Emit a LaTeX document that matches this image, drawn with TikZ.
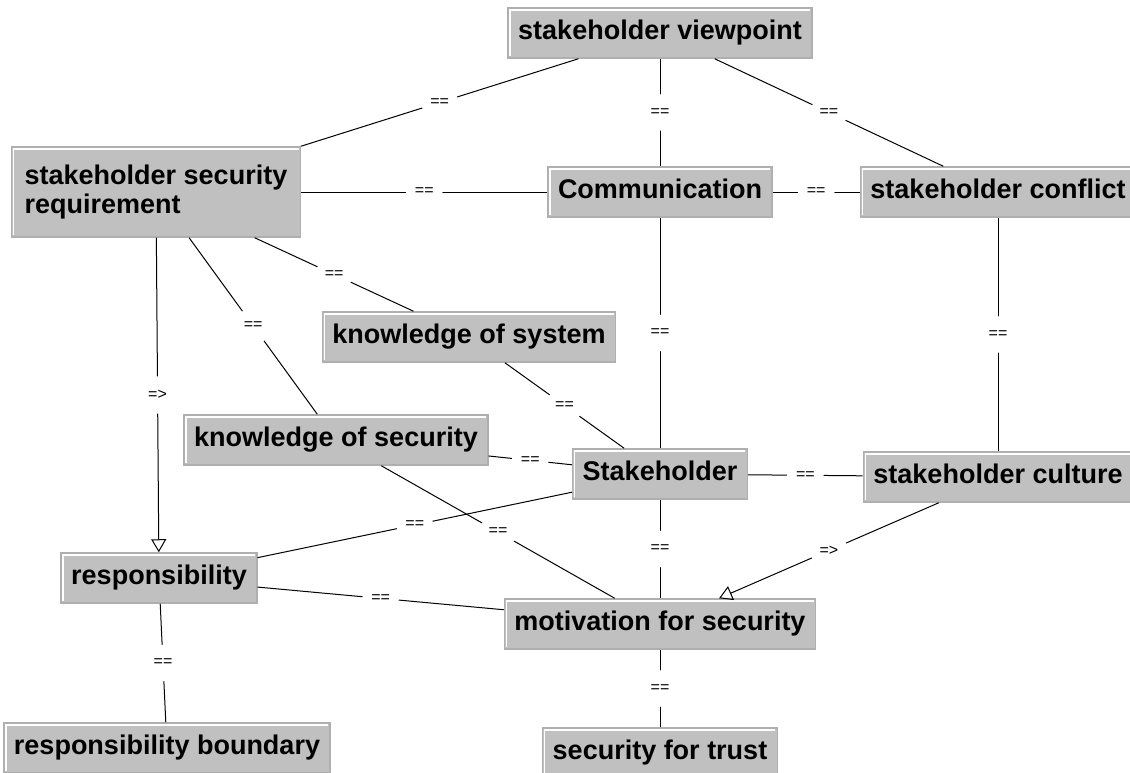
\documentclass[tikz,border=0pt]{standalone}
\usepackage{fontspec}
\setmainfont{Liberation Sans}
\usetikzlibrary{arrows.meta, positioning}

\tikzset{
  concept/.style={rectangle, fill={rgb,255:red,192;green,192;blue,192},
    draw={rgb,255:red,175;green,175;blue,175}, line width=1.5pt,
    font=\fontsize{27}{29}\selectfont\bfseries, text=black,
    inner xsep=10pt, inner ysep=0pt, minimum height=50pt,
    text height=19pt, text depth=6pt,
    path picture={\draw[white, line width=1.5pt]
      ([shift={(2pt,2pt)}]path picture bounding box.south west)
      |- ([shift={(-2pt,-2pt)}]path picture bounding box.north east);}},
  rel/.style={circle, fill=white, inner sep=6pt, font=\fontsize{16}{16}\selectfont, text=black},
  link/.style={line width=1pt, every node/.style={rel}},
  implies/.style={-{Triangle[open,length=13pt,width=15pt]}},
}

\begin{document}
\begin{tikzpicture}[x=1pt, y=1pt, node distance=100pt, on grid]
  \useasboundingbox (0,0) rectangle (1130,-773);

  \node[concept] (vp)    at (660,-33)                 {stakeholder viewpoint};
  \node[concept] (comm)  [below=159pt of vp]          {Communication};
  \node[concept, align=left, minimum width=289pt, minimum height=90pt,
        text height=, text depth=]
                 (ssr)   [left=504pt of comm]         {stakeholder security\\requirement};
  \node[concept] (conf)  [right=338pt of comm]        {stakeholder conflict};
  \node[concept] (kosys) [below right=145pt and 313pt of ssr] {knowledge of system};
  \node[concept] (kosec) [below right=248pt and 180pt of ssr] {knowledge of security};
  \node[concept] (sh)    [below=282pt of comm]        {Stakeholder};
  \node[concept] (cul)   [below=285pt of conf]        {stakeholder culture};
  \node[concept] (resp)  [below right=386pt and 3pt of ssr] {responsibility};
  \node[concept] (mot)   [below=150pt of sh]          {motivation for security};
  \node[concept] (rb)    [below right=170pt and 8pt of resp] {responsibility boundary};
  \node[concept] (sft)   [below=129pt of mot]         {security for trust};

  \path[link]
    (vp)    edge node {==} (ssr)
            edge node {==} (comm)
            edge node {==} (conf)
    (ssr)   edge node {==} (comm)
            edge node {==} (kosys)
            edge node {==} (kosec)
            edge [implies] node {=>} (resp)
    (comm)  edge node {==} (conf)
            edge node {==} (sh)
    (conf)  edge node {==} (cul)
    (kosys) edge node {==} (sh)
    (kosec) edge node {==} (sh)
            edge node {==} (mot)
    (sh)    edge node {==} (cul)
            edge node {==} (resp)
            edge node {==} (mot)
    (cul)   edge [implies] node {=>} (mot)
    (resp)  edge node {==} (mot)
            edge node {==} (rb)
    (mot)   edge node {==} (sft);
\end{tikzpicture}
\end{document}
